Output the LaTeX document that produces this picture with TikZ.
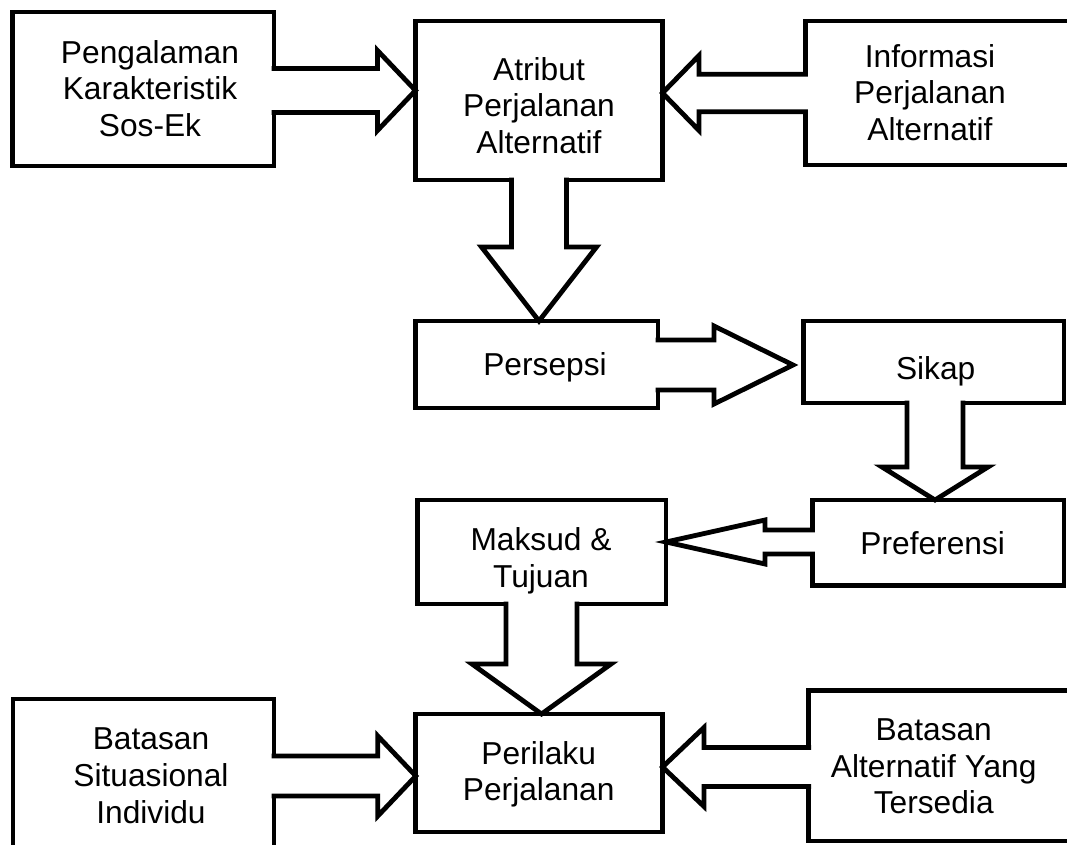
\documentclass[tikz,border=0pt]{standalone}
\usepackage{fontspec}
\setmainfont{Liberation Sans}
\usetikzlibrary{calc}
\tikzset{
  box/.style={draw, fill=white, line width=4.8pt, inner sep=0pt, outer sep=0pt},
  lbl/.style={align=center, inner sep=0pt, outer sep=0pt, font=\fontsize{31.7}{36.8}\selectfont},
  fatarrow/.style={draw, fill=white, line width=4.8pt, line join=miter, miter limit=20},
}
\newcommand{\halflw}{2.4pt}
% #1 source anchor, #2 tip, #3 half shaft, #4 half head, #5 head length
\newcommand{\fatright}[5]{%
  \path[fatarrow] let \p1=(#1), \p2=(#2) in
    (\x1-\halflw,\y2+#3pt) -- (\x2-#5pt,\y2+#3pt) -- (\x2-#5pt,\y2+#4pt) -- (\p2)
    -- (\x2-#5pt,\y2-#4pt) -- (\x2-#5pt,\y2-#3pt) -- (\x1-\halflw,\y2-#3pt);}
\newcommand{\fatleft}[5]{%
  \path[fatarrow] let \p1=(#1), \p2=(#2) in
    (\x1+\halflw,\y2+#3pt) -- (\x2+#5pt,\y2+#3pt) -- (\x2+#5pt,\y2+#4pt) -- (\p2)
    -- (\x2+#5pt,\y2-#4pt) -- (\x2+#5pt,\y2-#3pt) -- (\x1+\halflw,\y2-#3pt);}
\newcommand{\fatdown}[5]{%
  \path[fatarrow] let \p1=(#1), \p2=(#2) in
    (\x2-#3pt,\y1+\halflw) -- (\x2-#3pt,\y2+#5pt) -- (\x2-#4pt,\y2+#5pt) -- (\p2)
    -- (\x2+#4pt,\y2+#5pt) -- (\x2+#3pt,\y2+#5pt) -- (\x2+#3pt,\y1+\halflw);}
\begin{document}
\begin{tikzpicture}[x=1pt,y=-1pt]
\useasboundingbox (0,0) rectangle (1067,845);
\clip (0,0) rectangle (1067,845);
\fill[white] (0,0) rectangle (1067,845);
% boxes
\node[box, minimum width=261.5pt, minimum height=154pt] (peng) at (143.25,89) {};
\node[box, minimum width=247pt, minimum height=159pt] (atr) at (539,100.5) {};
\node[box, minimum width=294.5pt, minimum height=144pt] (info) at (952.75,93) {};
\node[box, minimum width=242.5pt, minimum height=87pt] (pers) at (536.75,364.5) {};
\node[box, minimum width=260.5pt, minimum height=82pt] (sikap) at (933.75,362) {};
\node[box, minimum width=251.5pt, minimum height=85.5pt] (pref) at (938.25,542.75) {};
\node[box, minimum width=248.5pt, minimum height=104pt] (maks) at (541.75,552) {};
\node[box, minimum width=246.7pt, minimum height=118pt] (peri) at (539.15,773) {};
\node[box, minimum width=261pt, minimum height=201pt] (bsit) at (143.5,799.5) {};
\node[box, minimum width=291.3pt, minimum height=150.5pt] (balt) at (954.35,765.75) {};
% arrows
\fatright{peng.east}{$(atr.west)+(0,-10)$}{22}{40}{38}
\fatleft{info.west}{$(atr.east)+(0,-7.5)$}{18.75}{37.5}{36.5}
\fatdown{atr.south}{$(pers.north)+(2.25,0)$}{27.5}{57.5}{74}
\fatright{pers.east}{$(sikap.west)+(-10.5,3)$}{25}{39}{79}
\fatdown{sikap.south}{$(pref.north)+(-3.25,0)$}{28}{53}{33}
\fatleft{pref.west}{$(maks.east)+(0,-10)$}{12}{22}{99}
\fatdown{maks.south}{$(peri.north)+(2.35,0)$}{35.5}{69.5}{50}
\fatright{bsit.east}{$(peri.west)+(0,3)$}{20}{40}{38}
\fatleft{balt.west}{$(peri.east)+(0,-6)$}{19.5}{39.5}{41.5}
% labels
\node[lbl] (tpeng) at (150,88.5) {Pengalaman\\Karakteristik\\Sos-Ek};
\node[lbl] (tatr) at (539,105.5) {Atribut\\Perjalanan\\Alternatif};
\node[lbl] (tinfo) at (930,92.5) {Informasi\\Perjalanan\\Alternatif};
\node[lbl] (tpers) at (545,367.8) {Persepsi};
\node[lbl] (tsikap) at (935.7,371.8) {Sikap};
\node[lbl] (tpref) at (932.7,543.5) {Preferensi};
\node[lbl] (tmaks) at (541,560.7) {Maksud \&\\Tujuan};
\node[lbl] (tperi) at (538.7,774.2) {Perilaku\\Perjalanan};
\node[lbl] (tbsit) at (151,775.5) {Batasan\\Situasional\\Individu};
\node[lbl] (tbalt) at (933.7,766.4) {Batasan\\Alternatif Yang\\Tersedia};
\end{tikzpicture}
\end{document}
